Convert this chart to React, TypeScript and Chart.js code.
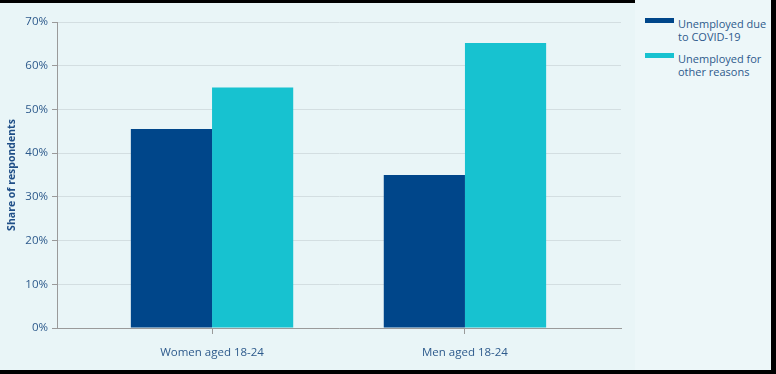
import React, { useEffect, useRef } from "react";
import { Chart, registerables } from "chart.js";

Chart.register(...registerables);

const categories = ["Women aged 18-24", "Men aged 18-24"];
const categoryPositions = [1, 2];
const seriesNames = [["Unemployed due", "to COVID-19"], ["Unemployed for", "other reasons"]];
const covidValues = [45.5, 35];
const otherValues = [55, 65.2];
const seriesColors = ["#00468a", "#17c2d0"];
const yTicks = [0, 10, 20, 30, 40, 50, 60, 70];

const FONT = "'Open Sans', 'DejaVu Sans', sans-serif";
const LABEL_COLOR = "#2d5a8c";

export default function App() {
  const ref = useRef<HTMLCanvasElement | null>(null);

  useEffect(() => {
    document.body.style.margin = "0";
    document.body.style.background = "#000";
    const ctx = ref.current!;
    const chart = new Chart(ctx, {
      type: "bar",
      data: {
        datasets: [
          {
            label: seriesNames[0].join(" "),
            data: categoryPositions.map((x, i) => ({ x, y: covidValues[i] })),
            backgroundColor: seriesColors[0],
            borderWidth: 0,
            categoryPercentage: 0.642,
            barPercentage: 1,
          },
          {
            label: seriesNames[1].join(" "),
            data: categoryPositions.map((x, i) => ({ x, y: otherValues[i] })),
            backgroundColor: seriesColors[1],
            borderWidth: 0,
            categoryPercentage: 0.642,
            barPercentage: 1,
          },
        ],
      },
      options: {
        animation: false,
        responsive: false,
        maintainAspectRatio: false,
        layout: { padding: { top: 19, right: 15, left: 0, bottom: 0 } },
        plugins: { legend: { display: false }, tooltip: { enabled: false } },
        scales: {
          x: {
            type: "linear",
            offset: false,
            min: 0.387,
            max: 2.617,
            afterBuildTicks: (scale: any) => {
              scale.ticks = categoryPositions.map((v) => ({ value: v }));
            },
            afterFit: (scale: any) => {
              scale.height = 42;
            },
            grid: {
              display: true,
              offset: false,
              drawOnChartArea: false,
              drawTicks: true,
              tickLength: 6,
              tickColor: "#9a9a9a",
            },
            border: { display: true, color: "#9a9a9a", width: 1 },
            ticks: {
              padding: 12,
              color: LABEL_COLOR,
              font: { family: FONT, size: 11.5 },
              maxRotation: 0,
              autoSkip: false,
              callback: (_v: any, i: number) => categories[i],
            },
          },
          y: {
            min: 0,
            max: 70,
            afterBuildTicks: (scale: any) => {
              scale.ticks = yTicks.map((v) => ({ value: v }));
            },
            afterFit: (scale: any) => {
              scale.width = 57;
            },
            grid: {
              color: "#d3dee1",
              tickColor: "#9a9a9a",
              tickLength: 5,
              drawTicks: true,
            },
            border: { display: true, color: "#9a9a9a", width: 1 },
            ticks: {
              padding: 4,
              color: LABEL_COLOR,
              font: { family: FONT, size: 11.5 },
              callback: (v: any) => v + "%",
            },
            title: {
              display: true,
              text: "Share of respondents",
              color: "#1f4e87",
              font: { family: FONT, size: 10.5, weight: "bold" },
              padding: { top: 6, bottom: 0 },
            },
          },
        },
      },
    } as any);
    return () => chart.destroy();
  }, []);

  return (
    <div style={{ position: "absolute", left: 0, top: 0, width: 776, height: 374, background: "#000", overflow: "hidden" }}>
      <div style={{ position: "absolute", left: 0, top: 3, width: 636, height: 367, background: "#e9f5f7" }}>
        <canvas ref={ref} width={636} height={367} style={{ display: "block", width: 636, height: 367 }} />
      </div>
      <div style={{ position: "absolute", left: 635, top: 0, width: 136, height: 370, background: "#edf7f9" }}>
        {seriesNames.map((lines, i) => (
          <div key={i} style={{ position: "absolute", left: 10, top: i === 0 ? 18 : 53, display: "flex" }}>
            <div style={{ width: 29, height: 5, background: seriesColors[i] }} />
            <div style={{ marginLeft: 4, fontFamily: FONT, fontSize: 11, lineHeight: "13px", color: LABEL_COLOR, marginTop: -1 }}>
              {lines.map((l, j) => (
                <div key={j}>{l}</div>
              ))}
            </div>
          </div>
        ))}
      </div>
    </div>
  );
}
